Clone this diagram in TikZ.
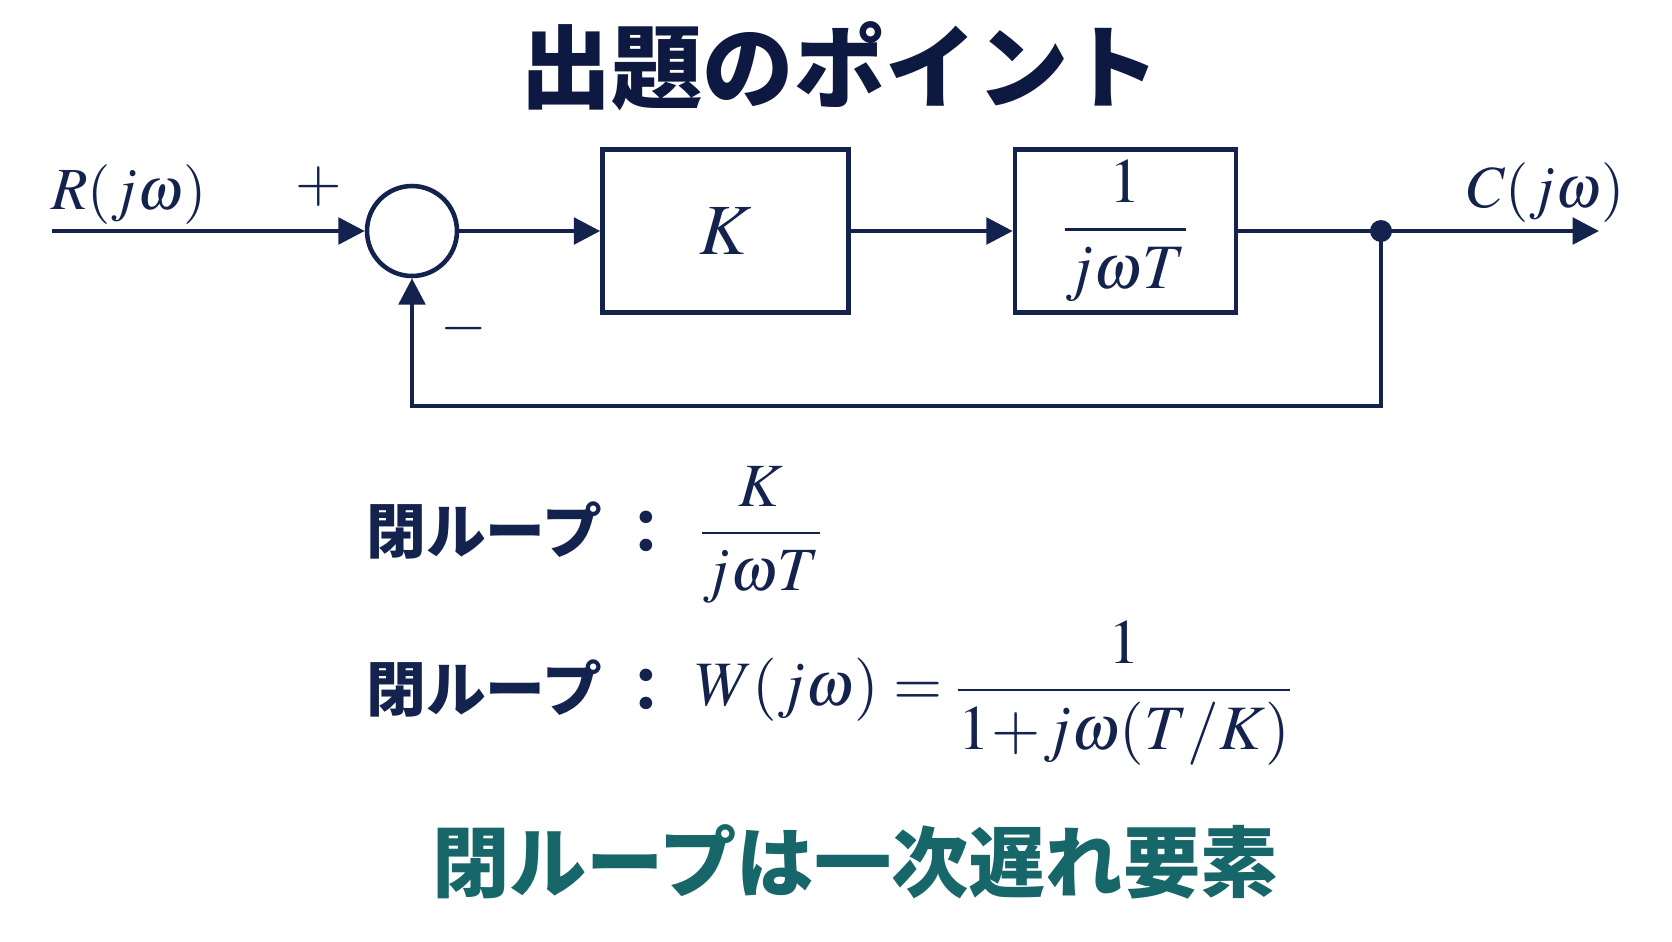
\documentclass[tikz,border=0pt]{standalone}
\usepackage{mathptmx}
\usepackage[no-math]{fontspec}
\usepackage{amsmath}
\newfontfamily\jpfont{Noto Sans CJK JP}
\usetikzlibrary{arrows.meta, positioning}
\definecolor{navy}{HTML}{14234D}
\definecolor{titlenavy}{HTML}{0E1942}
\definecolor{tealtext}{HTML}{17676A}
\tikzset{
    >={Triangle[length=15pt,width=15pt]},
    % Shapes
    blockbox/.style={rectangle, draw=navy, line width=2.6pt, minimum height=3.26cm,
                     inner sep=0pt, text=navy},
    sumnode/.style={circle, draw=navy, line width=2.6pt, minimum size=1.8cm, inner sep=0pt},
    junction/.style={circle, fill=navy, minimum size=0.44cm, inner sep=0pt},
    % Flow & Labels
    wire/.style={line width=2.5pt, navy},
    flow/.style={->, wire},
    sig/.style={text=navy, inner sep=0pt, font=\fontsize{34}{40}\selectfont},
    jplbl/.style={text=navy, inner sep=0pt, font=\jpfont\bfseries\fontsize{34}{38}\selectfont},
    heading/.style={text=titlenavy, inner sep=0pt, font=\jpfont\bfseries\fontsize{52}{60}\selectfont},
    summary/.style={text=tealtext, inner sep=0pt, font=\jpfont\bfseries\fontsize{44}{50}\selectfont}
}

\begin{document}
\begin{tikzpicture}[x=0.02cm, y=-0.02cm]
\useasboundingbox[fill=white] (0,0) rectangle (1672,941);

\node[heading] (title) at (840,66) {出題のポイント};

% block diagram
\node[sumnode] (sum) at (412,231) {};
\node[blockbox, minimum width=4.92cm, right=2.82cm of sum,
      font=\fontsize{41}{48}\selectfont] (kbox) {$K$};
\node[blockbox, minimum width=4.42cm, right=3.24cm of kbox,
      font=\fontsize{36}{42}\selectfont] (gbox) {$\dfrac{1}{j\omega T}$};
\node[junction] (branch) at (1381,231) {};
\coordinate (in) at (52,231);
\coordinate (out) at (1599,231);
\coordinate (fbk) at (1381,406);

\draw[flow] (in) -- (sum);
\draw[flow] (sum) -- (kbox);
\draw[flow] (kbox) -- (gbox);
\draw[wire] (gbox) -- (branch.center);
\draw[flow] (branch.center) -- (out);
\draw[flow] (branch.center) -- (fbk) -| (sum.south);

\node[sig] (rlbl) at (129,195) {$R(j\omega)$};
\node[sig] (clbl) at (1546,193) {$C(j\omega)$};
\node[sig] (plus) at (319,187) {$+$};
\node[sig] (minus) at (464,329) {$-$};

% transfer functions
\node[jplbl, anchor=west] (openlbl) at (366,530) {閉ループ\hspace{0.25em}：};
\node[sig, anchor=west, font=\fontsize{35}{40}\selectfont] (openfrac) at (700,535)
     {$\dfrac{K}{j\omega T}$};
\node[jplbl, anchor=west] (closedlbl) at (366,688) {閉ループ\hspace{0.25em}：};
\node[sig, anchor=west, font=\fontsize{36}{42}\selectfont] (closedfrac) at (695,693)
     {$W(j\omega)=\dfrac{1}{1\!+\!j\omega(T/K)}$};

\node[summary] (note) at (855,862) {閉ループは一次遅れ要素};

\end{tikzpicture}
\end{document}
